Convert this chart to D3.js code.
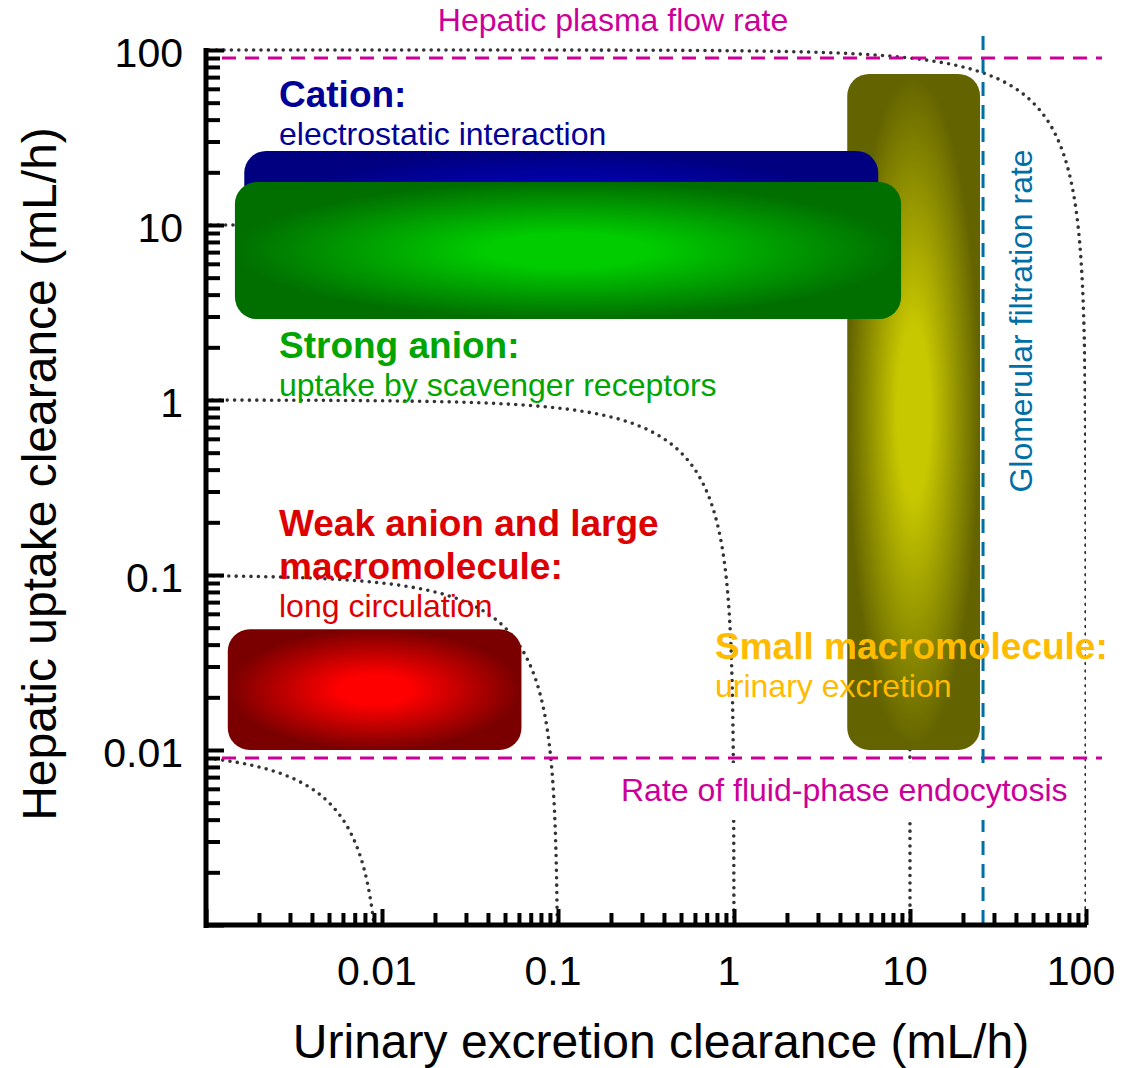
<!DOCTYPE html>
<html>
<head>
<meta charset="utf-8">
<script src="https://cdn.jsdelivr.net/npm/d3@7"></script>
<style>
  body { margin: 0; background: #fff; }
  text { font-family: "Liberation Sans", Arial, sans-serif; }
</style>
</head>
<body>
<div id="chart"></div>
<script>
// ---- data ----
var xTickValues = [0.01, 0.1, 1, 10, 100],
    xTickLabels = ["0.01", "0.1", "1", "10", "100"],
    yTickValues = [0.01, 0.1, 1, 10, 100],
    yTickLabels = ["0.01", "0.1", "1", "10", "100"];
// total clearance (x + y = c) guide curves
var isoClearance = [0.01, 0.1, 1, 10, 100];
// reference rates (mL/h)
var hepaticPlasmaFlow = 90,
    fluidPhaseEndocytosis = 0.009,
    glomerularFiltration = 26;
// region boxes, drawn in this order
var boxKeys = ["small", "cation", "strong", "weak"],
    boxXmin = [4.4, 0.00165, 0.00146, 0.00133],
    boxXmax = [25, 6.6, 8.9, 0.062],
    boxYmin = [0.01, 4, 2.9, 0.01],
    boxYmax = [73, 26.5, 17.6, 0.049];

// ---- layout ----
var W = 1135, H = 1068;
var area = { l: 206, r: 1086, t: 50, b: 925 };
var font = { tick: 41, title: 48, note: 32, head: 37 };
var color = {
  axis: "#000",
  dot: "#333",
  pink: "#cc0099",
  gfr: "#006fa6",
  cation: "#000099",
  strong: "#00a500",
  weak: "#dd0000",
  small: "#ffbb00"
};
var grad = {
  small: ["#c8c800", "#636300"],
  cation: ["#0000cc", "#000080"],
  strong: ["#00cc00", "#006f00"],
  weak: ["#ff0000", "#7a0000"]
};

var x = d3.scaleLog().domain([0.001, 100]).range([area.l, area.r]);
var y = d3.scaleLog().domain([0.001, 100]).range([area.b, area.t]);

var svg = d3.select("#chart").append("svg").attr("width", W).attr("height", H);
var defs = svg.append("defs");
defs.append("clipPath").attr("id", "plot-clip").append("rect")
    .attr("x", area.l).attr("y", area.t - 5).attr("width", area.r - area.l).attr("height", area.b - area.t + 5);

boxKeys.forEach(function(k) {
  var g = defs.append("radialGradient").attr("id", "grad-" + k)
              .attr("cx", "50%").attr("cy", "50%").attr("r", "50%");
  g.append("stop").attr("offset", "0%").attr("stop-color", grad[k][0]);
  g.append("stop").attr("offset", "25%").attr("stop-color", grad[k][0]).attr("stop-opacity", 1);
  g.append("stop").attr("offset", "100%").attr("stop-color", grad[k][1]);
});

// dotted guide curves
var line = d3.line().x(function(d) { return x(d[0]); }).y(function(d) { return y(d[1]); });
var curves = svg.append("g").attr("clip-path", "url(#plot-clip)");
isoClearance.forEach(function(c) {
  var half = [];
  for (var e = -7; e <= Math.log10(0.5); e += 0.005) half.push([c * Math.pow(10, e), c * (1 - Math.pow(10, e))]);
  var pts = half.concat(half.slice().reverse().map(function(p) { return [p[1], p[0]]; }));
  curves.append("path").attr("d", line(pts)).attr("fill", "none")
        .attr("stroke", color.dot).attr("stroke-width", 3.6).attr("stroke-linecap", "round")
        .attr("stroke-dasharray", "0 7.4");
});

// reference lines
svg.append("line").attr("x1", 222).attr("x2", 1102)
   .attr("y1", y(hepaticPlasmaFlow)).attr("y2", y(hepaticPlasmaFlow))
   .attr("stroke", color.pink).attr("stroke-width", 3).attr("stroke-dasharray", "14 9");
svg.append("line").attr("x1", 222).attr("x2", 1102)
   .attr("y1", y(fluidPhaseEndocytosis)).attr("y2", y(fluidPhaseEndocytosis))
   .attr("stroke", color.pink).attr("stroke-width", 3).attr("stroke-dasharray", "14 9");
svg.append("line").attr("x1", x(glomerularFiltration)).attr("x2", x(glomerularFiltration))
   .attr("y1", 36).attr("y2", area.b)
   .attr("stroke", color.gfr).attr("stroke-width", 3).attr("stroke-dasharray", "14 9");

// boxes
boxKeys.forEach(function(k, i) {
  svg.append("rect").attr("id", "box-" + k)
     .attr("x", x(boxXmin[i])).attr("y", y(boxYmax[i]))
     .attr("width", x(boxXmax[i]) - x(boxXmin[i])).attr("height", y(boxYmin[i]) - y(boxYmax[i]))
     .attr("rx", 22).attr("ry", 22)
     .attr("fill", "url(#grad-" + k + ")");
});

// axes
var minorTicks = [];
[0.001, 0.01, 0.1, 1, 10].forEach(function(d) {
  for (var m = 2; m <= 9; m++) minorTicks.push(d * m);
});
var majorTicks = [0.001].concat(xTickValues);

function styleAxis(g) {
  g.selectAll(".tick line").attr("stroke", color.axis).attr("stroke-width", 4);
  g.selectAll(".domain").remove();
}
svg.append("g").attr("transform", "translate(" + area.l + ",0)")
   .call(d3.axisLeft(y).tickValues(minorTicks).tickSize(-14).tickFormat(""))
   .call(styleAxis);
svg.append("g").attr("transform", "translate(" + area.l + ",0)")
   .call(d3.axisLeft(y).tickValues(majorTicks).tickSize(-18).tickFormat(""))
   .call(styleAxis);
svg.append("g").attr("transform", "translate(0," + area.b + ")")
   .call(d3.axisBottom(x).tickValues(minorTicks).tickSize(-12).tickFormat(""))
   .call(styleAxis);
svg.append("g").attr("transform", "translate(0," + area.b + ")")
   .call(d3.axisBottom(x).tickValues(majorTicks).tickSize(-16).tickFormat(""))
   .call(styleAxis);
svg.append("line").attr("x1", area.l).attr("x2", area.l).attr("y1", area.t - 2).attr("y2", area.b + 3)
   .attr("stroke", color.axis).attr("stroke-width", 5);
svg.append("line").attr("x1", area.l - 2).attr("x2", area.r + 1).attr("y1", area.b).attr("y2", area.b)
   .attr("stroke", color.axis).attr("stroke-width", 5);

// tick labels
yTickValues.forEach(function(v, i) {
  svg.append("text").attr("x", area.l - 23).attr("y", y(v)).attr("dy", "0.42em")
     .attr("text-anchor", "end").attr("font-size", font.tick).attr("fill", "#000").text(yTickLabels[i]);
});
xTickValues.forEach(function(v, i) {
  svg.append("text").attr("x", x(v) - 5).attr("y", 985)
     .attr("text-anchor", "middle").attr("font-size", font.tick).attr("fill", "#000").text(xTickLabels[i]);
});

// axis titles
svg.append("text").attr("x", 661).attr("y", 1058).attr("text-anchor", "middle")
   .attr("font-size", font.title).attr("fill", "#000").text("Urinary excretion clearance (mL/h)");
svg.append("text").attr("transform", "translate(56,474) rotate(-90)").attr("text-anchor", "middle")
   .attr("font-size", font.title).attr("fill", "#000").text("Hepatic uptake clearance (mL/h)");

// reference line labels
svg.append("text").attr("x", 613).attr("y", 31).attr("text-anchor", "middle")
   .attr("font-size", font.note).attr("fill", color.pink).text("Hepatic plasma flow rate");
var endo = svg.append("g");
var endoText = endo.append("text").attr("x", 621).attr("y", 801)
   .attr("font-size", font.note).attr("fill", color.pink).text("Rate of fluid-phase endocytosis");
var bb = endoText.node().getBBox();
endo.insert("rect", "text").attr("x", bb.x - 2).attr("y", 763).attr("width", bb.width + 4).attr("height", 57).attr("fill", "#fff");
svg.append("text").attr("transform", "translate(1032,321) rotate(-90)").attr("text-anchor", "middle")
   .attr("font-size", font.note).attr("fill", color.gfr).text("Glomerular filtration rate");

// region labels
function label(xp, yp, txt, col, bold) {
  svg.append("text").attr("x", xp).attr("y", yp).attr("font-size", bold ? font.head : font.note)
     .attr("font-weight", bold ? "bold" : "normal").attr("fill", col).text(txt);
}
label(279, 107, "Cation:", color.cation, true);
label(279, 145, "electrostatic interaction", color.cation, false);
label(279, 358, "Strong anion:", color.strong, true);
label(279, 396, "uptake by scavenger receptors", color.strong, false);
label(279, 536, "Weak anion and large", color.weak, true);
label(279, 579, "macromolecule:", color.weak, true);
label(279, 617, "long circulation", color.weak, false);
label(715, 659, "Small macromolecule:", color.small, true);
label(715, 697, "urinary excretion", color.small, false);
</script>
</body>
</html>
